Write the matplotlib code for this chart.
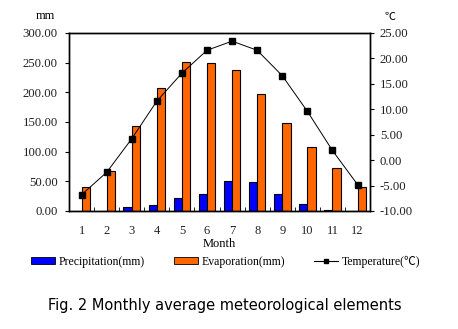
import matplotlib.pyplot as plt
from matplotlib.patches import Patch
from matplotlib.lines import Line2D
import numpy as np

months = [1, 2, 3, 4, 5, 6, 7, 8, 9, 10, 11, 12]
precipitation = [0.5, 0, 7, 10, 22, 29, 50, 49, 29, 12, 1.5, 0]
evaporation = [40, 67, 143, 207, 251, 249, 238, 198, 148, 108, 72, 41]
temperature = [-6.8, -2.4, 4.2, 11.6, 17.1, 21.6, 23.4, 21.6, 16.6, 9.6, 1.9, -4.8]

serif = 'Liberation Serif'
blue = '#0000ff'
orange = '#ff6600'

fig = plt.figure(figsize=(4.58, 3.29), dpi=100)
ax = fig.add_axes([0.1507, 0.3587, 0.6573, 0.541])

x = np.arange(len(months))
w = 0.33
ax.bar(x - w / 2, precipitation, w, color=blue, edgecolor='black', linewidth=0.8)
ax.bar(x + w / 2, evaporation, w, color=orange, edgecolor='black', linewidth=0.8)
ax.set_xlim(-0.5, 11.5)
ax.set_ylim(0, 300)
ax.set_yticks(np.arange(0, 301, 50))
ax.set_yticklabels(['%.2f' % v for v in np.arange(0, 301, 50)], family=serif, fontsize=9.2, color='#222222')
ax.set_xticks(x)
ax.set_xticklabels([str(m) for m in months], family=serif, fontsize=9, color='#222222')
ax.set_xticks(np.arange(-0.5, 12, 1), minor=True)
ax.tick_params(axis='x', which='major', length=0, pad=10)
ax.tick_params(axis='x', which='minor', length=3, direction='in')
ax.tick_params(axis='y', length=3, direction='out', pad=5)
ax.set_xlabel('Month', family=serif, fontsize=9, labelpad=1)

ax2 = ax.twinx()
ax2.plot(x, temperature, color='black', linewidth=0.7, marker='s', markersize=3.8)
ax2.set_ylim(-10, 25)
ax2.set_yticks(np.arange(-10, 26, 5))
ax2.set_yticklabels(['%.2f' % v for v in np.arange(-10, 26, 5)], family=serif, fontsize=9.2, color='#222222')
ax2.tick_params(axis='y', length=3, direction='out', pad=4)

for a in (ax, ax2):
    for s in a.spines.values():
        s.set_linewidth(1.0)
        s.set_color('black')

fig.text(0.098, 0.951, 'mm', family=serif, fontsize=9, ha='center', va='center')
fig.text(0.852, 0.949, '℃', family=['Noto Sans CJK SC', 'DejaVu Sans'], fontsize=8, ha='center', va='center')

handles = [Patch(facecolor=blue, edgecolor='black', linewidth=0.6),
           Patch(facecolor=orange, edgecolor='black', linewidth=0.6),
           Line2D([], [], color='black', linewidth=0.8, marker='s', markersize=3.2)]
labels = ['Precipitation(mm)', 'Evaporation(mm)', 'Temperature(℃)']
fig.legend(handles, labels, loc='center', bbox_to_anchor=(0.493, 0.205), ncol=3, frameon=False,
           prop={'family': [serif, 'Noto Sans CJK SC'], 'size': 8.5},
           handlelength=2.0, handleheight=0.6, handletextpad=0.3, columnspacing=2.5)

fig.text(0.491, 0.07, 'Fig. 2 Monthly average meteorological elements', family='DejaVu Sans',
         fontsize=10.5, ha='center', va='center')

fig.savefig('out.png', dpi=100)
